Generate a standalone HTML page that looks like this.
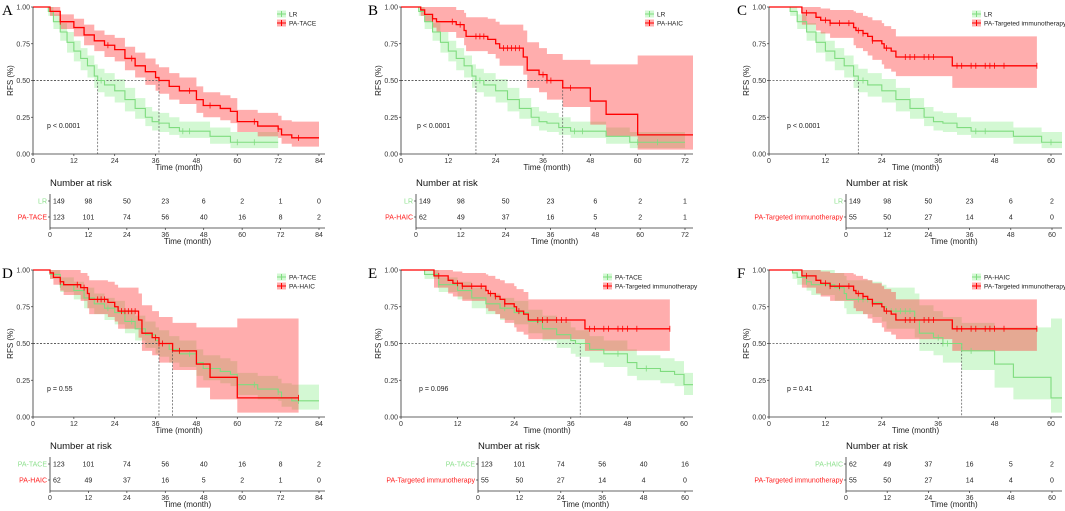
<!DOCTYPE html>
<html><head><meta charset="utf-8"><style>
html,body{margin:0;padding:0;background:#fff;}
svg{display:block;font-family:"Liberation Sans",sans-serif;}
</style></head><body>
<svg id="fig" width="1065" height="511" viewBox="0 0 1065 511"></svg>
<script>
// ---- Curve data (time in months, survival probability) ----
const lrT = [0,4.5,6,8,10,12,14,16,18,19,21,24,27,30,33,35,37,40,43,52,58,72];
const lrS = [1,0.97,0.9,0.83,0.76,0.70,0.65,0.6,0.53,0.5,0.47,0.43,0.37,0.31,0.25,0.22,0.21,0.18,0.155,0.12,0.08,0.08];
const lrU = [1,1,0.95,0.89,0.83,0.77,0.72,0.67,0.61,0.58,0.55,0.51,0.45,0.38,0.32,0.29,0.28,0.25,0.22,0.18,0.15,0.15];
const lrL = [1,0.94,0.85,0.77,0.69,0.63,0.57,0.52,0.45,0.42,0.39,0.35,0.29,0.24,0.19,0.16,0.15,0.13,0.11,0.07,0.04,0.04];
const lrC = [20,44,46,60,65];

const taceT = [0,5,8,12,15,18,21,24,27,30,33,36,37,40,43,48,50,55,58,60,66,72,73,76,84];
const taceS = [1,0.97,0.9,0.86,0.81,0.77,0.74,0.71,0.65,0.6,0.56,0.52,0.5,0.46,0.43,0.37,0.33,0.31,0.29,0.22,0.19,0.17,0.13,0.11,0.11];
const taceU = [1,1,0.95,0.92,0.88,0.84,0.81,0.79,0.73,0.69,0.65,0.61,0.59,0.55,0.52,0.46,0.42,0.40,0.38,0.30,0.28,0.26,0.23,0.22,0.22];
const taceL = [1,0.94,0.85,0.80,0.74,0.70,0.66,0.63,0.57,0.52,0.47,0.43,0.41,0.37,0.34,0.28,0.25,0.23,0.21,0.15,0.12,0.11,0.07,0.05,0.05];
const taceC = [8,22,29,46,52,65,72,78];

const haicT = [0,5,6,8,9,14,16,16.5,22,24,25,31,32,35,37,41,48,52,60,78];
const haicS = [1,0.98,0.95,0.92,0.90,0.88,0.84,0.80,0.78,0.75,0.72,0.66,0.57,0.54,0.50,0.45,0.36,0.27,0.13,0.13];
const haicU = [1,1,1,1,1,0.98,0.96,0.93,0.92,0.90,0.88,0.84,0.76,0.72,0.68,0.64,0.61,0.61,0.67,0.67];
const haicL = [1,0.94,0.90,0.86,0.83,0.79,0.74,0.70,0.68,0.65,0.60,0.54,0.45,0.42,0.37,0.32,0.20,0.12,0.03,0.03];
const haicC = [8,13,15,19,20,21,26,27,28,29,30,36,37,38,43,78];

const tiT = [0,7,10,11,13,18,18.5,20,21,22,24,24.5,26,27,39,57];
const tiS = [1,0.96,0.93,0.91,0.89,0.86,0.84,0.82,0.80,0.77,0.75,0.72,0.70,0.66,0.60,0.60];
const tiU = [1,1,1,0.99,0.98,0.97,0.96,0.94,0.93,0.91,0.89,0.87,0.85,0.80,0.80,0.80];
const tiL = [1,0.88,0.84,0.82,0.79,0.74,0.72,0.70,0.67,0.64,0.61,0.58,0.56,0.53,0.45,0.45];
const tiC = [8,12,13,15,17,19,20,22,25,29,30,31,33,34,35,40,41,43,44,46,47,48,50,57];

const yTicks = [0,0.25,0.5,0.75,1];
const yTickLabels = ["0.00","0.25","0.50","0.75","1.00"];

// ---- Risk tables ----
const riskA1 = [149,98,50,23,6,2,1,0];
const riskA2 = [123,101,74,56,40,16,8,2];
const riskB1 = [149,98,50,23,6,2,1];
const riskB2 = [62,49,37,16,5,2,1];
const riskC1 = [149,98,50,23,6,2];
const riskC2 = [55,50,27,14,4,0];
const riskD1 = [123,101,74,56,40,16,8,2];
const riskD2 = [62,49,37,16,5,2,1,0];
const riskE1 = [123,101,74,56,40,16];
const riskE2 = [55,50,27,14,4,0];
const riskF1 = [62,49,37,16,5,2];
const riskF2 = [55,50,27,14,4,0];

const LR={t:lrT,s:lrS,u:lrU,l:lrL,c:lrC}, TACE={t:taceT,s:taceS,u:taceU,l:taceL,c:taceC},
      HAIC={t:haicT,s:haicS,u:haicU,l:haicL,c:haicC}, TI={t:tiT,s:tiS,u:tiU,l:tiL,c:tiC};

const panels = [
 {id:'a',L:'A',x0:33,x1:319,max:84,end:325,yT:7,yB:154,tx0:50,tx1:319,r1:201,r2:217,ta:228,nr:182,c:[LR,TACE],n:['LR','PA-TACE'],rk:[riskA1,riskA2],p:'p < 0.0001',px:47,py:128,med:[19,37],lx:277,ly:14,letX:2},
 {id:'b',L:'B',x0:401,x1:685,max:72,end:693,yT:7,yB:154,tx0:416,tx1:685,r1:201,r2:217,ta:228,nr:182,c:[LR,HAIC],n:['LR','PA-HAIC'],rk:[riskB1,riskB2],p:'p < 0.0001',px:417,py:128,med:[19,41],lx:645,ly:14,letX:368},
 {id:'c',L:'C',x0:769,x1:1051,max:60,end:1062,yT:7,yB:154,tx0:846,tx1:1052,r1:201,r2:217,ta:228,nr:182,c:[LR,TI],n:['LR','PA-Targeted immunotherapy'],rk:[riskC1,riskC2],p:'p < 0.0001',px:787,py:128,med:[19],lx:972,ly:14,letX:737},
 {id:'d',L:'D',x0:33,x1:319,max:84,end:325,yT:270,yB:417,tx0:50,tx1:319,r1:464,r2:480,ta:491,nr:445,c:[TACE,HAIC],n:['PA-TACE','PA-HAIC'],rk:[riskD1,riskD2],p:'p = 0.55',px:47,py:391,med:[37,41],lx:277,ly:277,letX:2},
 {id:'e',L:'E',x0:401,x1:684,max:60,end:693,yT:270,yB:417,tx0:478,tx1:685,r1:464,r2:480,ta:491,nr:445,c:[TACE,TI],n:['PA-TACE','PA-Targeted immunotherapy'],rk:[riskE1,riskE2],p:'p = 0.096',px:419,py:391,med:[38],lx:603,ly:277,letX:368},
 {id:'f',L:'F',x0:769,x1:1051,max:60,end:1062,yT:270,yB:417,tx0:846,tx1:1052,r1:464,r2:480,ta:491,nr:445,c:[HAIC,TI],n:['PA-HAIC','PA-Targeted immunotherapy'],rk:[riskF1,riskF2],p:'p = 0.41',px:787,py:391,med:[41],lx:972,ly:277,letX:737}
];

const NS='http://www.w3.org/2000/svg';
const svg=document.getElementById('fig');
function mk(tag,attrs,parent){const e=document.createElementNS(NS,tag);for(const k in attrs)e.setAttribute(k,attrs[k]);(parent||svg).appendChild(e);return e;}
const lineCol=['#7fdc7f','#ff0000'], bandCol=['rgba(144,238,144,0.4)','rgba(255,60,60,0.42)'];

panels.forEach(P=>{
  const g=mk('g',{});
  
  
  const X=t=>P.x0+(P.x1-P.x0)*t/P.max;
  const Y=s=>P.yB-(P.yB-P.yT)*s;
  const TX=t=>P.tx0+(P.tx1-P.tx0)*t/P.max;
  const cp=mk('clipPath',{id:'clip'+P.id},g);
  mk('rect',{x:P.x0,y:P.yT-4,width:P.end-P.x0,height:P.yB-P.yT+8},cp);
  const clip='url(#clip'+P.id+')';
  // bands
  P.c.forEach((C,k)=>{
    const last=C.t.length-1;
    let d='M'+X(C.t[0])+','+Y(C.u[0]);
    for(let i=1;i<=last;i++){d+='H'+X(C.t[i])+'V'+Y(C.u[i]);}
    d+='V'+Y(C.l[last]);
    for(let i=last-1;i>=0;i--){d+='V'+Y(C.l[i])+'H'+X(C.t[i]);}
    d+='Z';
    const band=mk('path',{d:d,fill:bandCol[k],'clip-path':clip},g);
    
    
  });
  // median lines
  P.med.forEach(m=>{
    const ml=mk('path',{d:'M'+P.x0+','+Y(0.5)+'H'+X(m)+'V'+P.yB,fill:'none',stroke:'#555','stroke-width':0.7,'stroke-dasharray':'2,1.5'},g);
    
    
  });
  P.c.forEach((C,k)=>{
    const last=C.t.length-1;
    let d='M'+X(C.t[0])+','+Y(C.s[0]);
    for(let i=1;i<=last;i++){d+='H'+X(C.t[i])+'V'+Y(C.s[i]);}
    const ln=mk('path',{d:d,fill:'none',stroke:lineCol[k],'stroke-width':k?1.3:1.1,'clip-path':clip},g);
    
    
    C.c.forEach(ct=>{
      if(ct>C.t[last])return;
      let s=C.s[0];for(let i=0;i<=last;i++){if(C.t[i]<=ct)s=C.s[i];}
      const cm=mk('path',{d:'M'+X(ct)+','+(Y(s)-3)+'v6',stroke:lineCol[k],'stroke-width':0.8,'clip-path':clip},g);
      
      
    });
  });
  // axes
  const ax=mk('path',{d:'M'+P.x0+','+P.yT+'V'+P.yB+'H'+P.end,fill:'none',stroke:'#333','stroke-width':0.8},g);
  
  
  yTicks.forEach((v,i)=>{
    mk('path',{d:'M'+(P.x0-2)+','+Y(v)+'H'+P.x0,stroke:'#333','stroke-width':0.7},g);
    const t=mk('text',{x:P.x0-3,y:Y(v)+2.5,'font-size':7,'text-anchor':'end',fill:'#333'},g);
    t.textContent=yTickLabels[i];
    
    
  });
  for(let v=0;v<=P.max;v+=12){
    mk('path',{d:'M'+X(v)+','+P.yB+'v2',stroke:'#333','stroke-width':0.7},g);
    const t=mk('text',{x:X(v),y:P.yB+9,'font-size':7,'text-anchor':'middle',fill:'#333'},g);
    t.textContent=v;
    
    
  }
  const xt=mk('text',{x:(P.x0+P.end)/2,y:P.yB+16,'font-size':8,'text-anchor':'middle',fill:'#222'},g);
  xt.textContent='Time (month)';
  
  
  const yt=mk('text',{x:0,y:0,'font-size':8,'text-anchor':'middle',fill:'#222',transform:'translate('+(P.x0-20)+','+((P.yT+P.yB)/2)+') rotate(-90)'},g);
  yt.textContent='RFS (%)';
  
  
  const lt=mk('text',{x:P.letX,y:P.yT+8,'font-size':15,'font-family':'Liberation Serif, serif',fill:'#000'},g);
  lt.textContent=P.L;
  
  
  const pt=mk('text',{x:P.px,y:P.py,'font-size':7,fill:'#222'},g);
  pt.textContent=P.p;
  
  
  // legend
  P.n.forEach((nm,k)=>{
    const ly=P.ly+k*9;
    mk('rect',{x:P.lx,y:ly-3.5,width:9,height:7,fill:bandCol[k]},g);
    mk('path',{d:'M'+P.lx+','+ly+'h9M'+(P.lx+4.5)+','+(ly-3)+'v6',stroke:lineCol[k],'stroke-width':1},g);
    const t=mk('text',{x:P.lx+12,y:ly+2.5,'font-size':6.5,fill:'#222'},g);
    t.textContent=nm;
    
    
  });
  // risk table
  const nrt=mk('text',{x:P.tx0,y:P.nr+4,'font-size':9.5,fill:'#111'},g);
  nrt.textContent='Number at risk';
  
  
  mk('path',{d:'M'+P.tx0+','+(P.nr+12)+'V'+P.ta+'H'+P.end,fill:'none',stroke:'#333','stroke-width':0.8},g);
  [P.r1,P.r2].forEach((ry,k)=>{
    mk('path',{d:'M'+(P.tx0-2)+','+ry+'h2',stroke:'#333','stroke-width':0.7},g);
    const lab=mk('text',{x:P.tx0-3,y:ry+2.5,'font-size':7,'text-anchor':'end',fill:k?'#ff2020':'#8ee08e'},g);
    lab.textContent=P.n[k];
    
    
    P.rk[k].forEach((v,i)=>{
      const t=mk('text',{x:TX(i*12)+(i===0?3:0),y:ry+2.5,'font-size':7,'text-anchor':i===0?'start':'middle',fill:'#222'},g);
      t.textContent=v;
      
      
    });
  });
  for(let v=0;v<=P.max;v+=12){
    mk('path',{d:'M'+TX(v)+','+P.ta+'v2',stroke:'#333','stroke-width':0.7},g);
    const t=mk('text',{x:TX(v),y:P.ta+9,'font-size':7,'text-anchor':'middle',fill:'#333'},g);
    t.textContent=v;
    
    
  }
  const rt=mk('text',{x:(P.tx0+P.end)/2,y:P.ta+16,'font-size':8,'text-anchor':'middle',fill:'#222'},g);
  rt.textContent='Time (month)';
  
  
});
</script>
</body></html>
